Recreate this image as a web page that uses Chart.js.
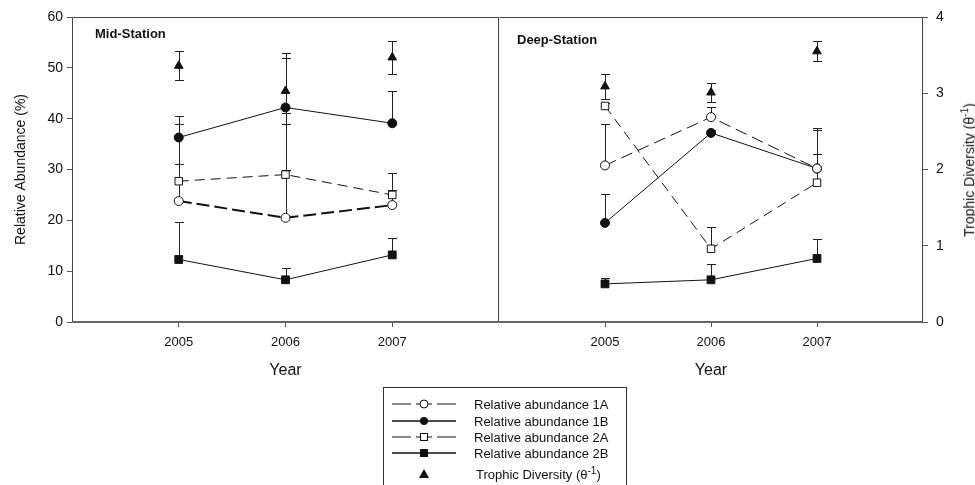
<!DOCTYPE html>
<html>
<head>
<meta charset="utf-8">
<script src="https://cdn.jsdelivr.net/npm/chart.js@4.4.0/dist/chart.umd.min.js"></script>
<style>
body{margin:0;background:#fff;width:975px;height:485px;position:relative;overflow:hidden;font-family:"Liberation Sans",Arial,sans-serif;color:#111}
#midWrap{position:absolute;left:0;top:0;width:499px;height:390px}
#deepWrap{position:absolute;left:480px;top:0;width:495px;height:390px}
.panel{position:absolute;font-weight:bold;font-size:13px}
#rightTitle{position:absolute;left:968px;top:170px;transform:translate(-50%,-50%) rotate(-90deg);white-space:nowrap;font-size:14px}
#legend{position:absolute;left:383px;top:387px;width:244px;height:110px;border:1px solid #333;box-sizing:border-box;font-size:13px}
.row{position:absolute;left:6px;height:14px;display:flex;align-items:center}
.row span{margin-left:16px;white-space:nowrap}
</style>
</head>
<body>
<div id="midWrap"><canvas id="mid"></canvas></div>
<div id="deepWrap"><canvas id="deep"></canvas></div>
<div class="panel" style="left:95px;top:26px">Mid-Station</div>
<div class="panel" style="left:517px;top:32px">Deep-Station</div>
<div id="rightTitle">Trophic Diversity (θ<sup style="font-size:10px">-1</sup>)</div>
<div id="legend"></div>
<script>
// years on the x axis
const years = [2005, 2006, 2007];
const yearTicks = [2005, 2006, 2007];
const leftTicks = [0, 10, 20, 30, 40, 50, 60];
const rightTicks = [0, 1, 2, 3, 4];

// Mid-Station, relative abundance (%) and upper error
const mid1A = [23.8, 20.5, 23.0];
const mid1AErr = [15.1, 20.7, 2.9];
const mid1B = [36.3, 42.2, 39.1];
const mid1BErr = [4.3, 10.8, 6.3];
const mid2A = [27.7, 29.0, 25.0];
const mid2AErr = [3.3, 0.9, 4.4];
const mid2B = [12.3, 8.3, 13.2];
const mid2BErr = [7.4, 2.3, 3.4];
// Mid-Station trophic diversity (theta^-1), +/- error
const midTroph = [3.36, 3.03, 3.47];
const midTrophErr = [0.19, 0.43, 0.22];

// Deep-Station
const deep1A = [30.8, 40.3, 30.2];
const deep1AErr = [8.2, 1.9, 8.0];
const deep1B = [19.5, 37.2, 30.2];
const deep1BErr = [5.7, 0.6, 7.6];
const deep2A = [42.5, 14.4, 27.4];
const deep2AErr = [0.6, 4.2, 5.7];
const deep2B = [7.5, 8.3, 12.5];
const deep2BErr = [1.1, 3.2, 3.8];
const deepTroph = [3.09, 3.01, 3.55];
const deepTrophErr = [0.16, 0.12, 0.13];

const legendLabels = ['Relative abundance 1A', 'Relative abundance 1B', 'Relative abundance 2A', 'Relative abundance 2B'];

const FONT = '"Liberation Sans", Arial, sans-serif';
const INK = '#111';

function pts(vals) {
    return vals.map((v, i) => ({x: years[i], y: v}));
}

function makeSets(a1, e1, b1, eb1, a2, e2, b2, eb2, tr, etr, thick1A) {
    return [
        {label: 'T', data: pts(tr), err: etr, both: true, yAxisID: 'y2', showLine: false,
         pointStyle: 'triangle', pointRadius: 5, backgroundColor: INK, borderColor: INK, borderWidth: 1},
        {label: '1A', data: pts(a1), err: e1, yAxisID: 'y', borderColor: INK, borderWidth: thick1A ? 2 : 1,
         borderDash: thick1A ? [13, 5] : [12, 6], pointStyle: 'circle', pointRadius: 4.5,
         pointBackgroundColor: '#fff', pointBorderColor: INK, pointBorderWidth: 1},
        {label: '1B', data: pts(b1), err: eb1, yAxisID: 'y', borderColor: INK, borderWidth: 1,
         pointStyle: 'circle', pointRadius: 4.5, pointBackgroundColor: INK, pointBorderColor: INK},
        {label: '2A', data: pts(a2), err: e2, yAxisID: 'y', borderColor: INK, borderWidth: 1,
         borderDash: [10, 6], pointStyle: 'rect', pointRadius: 5.3,
         pointBackgroundColor: '#fff', pointBorderColor: INK, pointBorderWidth: 1},
        {label: '2B', data: pts(b2), err: eb2, yAxisID: 'y', borderColor: INK, borderWidth: 1,
         pointStyle: 'rect', pointRadius: 5.5, pointBackgroundColor: INK, pointBorderColor: INK}
    ];
}

// error bars drawn through the scales, before the markers
const errorBars = {
    id: 'errorBars',
    beforeDatasetsDraw(chart) {
        const ctx = chart.ctx;
        const xs = chart.scales.x;
        ctx.save();
        ctx.strokeStyle = '#222';
        ctx.lineWidth = 1;
        chart.data.datasets.forEach(ds => {
            if (!ds.err) return;
            const ys = chart.scales[ds.yAxisID];
            ds.data.forEach((p, j) => {
                const e = ds.err[j];
                const x = Math.round(xs.getPixelForValue(p.x)) + 0.5;
                const top = Math.round(ys.getPixelForValue(p.y + e)) + 0.5;
                const bot = ds.both ? Math.round(ys.getPixelForValue(p.y - e)) + 0.5 : ys.getPixelForValue(p.y);
                ctx.beginPath();
                ctx.moveTo(x, bot); ctx.lineTo(x, top);
                ctx.moveTo(x - 4.5, top); ctx.lineTo(x + 4.5, top);
                if (ds.both) { ctx.moveTo(x - 4.5, bot); ctx.lineTo(x + 4.5, bot); }
                ctx.stroke();
            });
        });
        ctx.restore();
    }
};

// box round the plot area; the deep panel shares its left edge with the mid panel
const frame = {
    id: 'frame',
    afterDraw(chart, args, opts) {
        const a = chart.chartArea, ctx = chart.ctx;
        const l = Math.round(a.left) + 0.5, r = Math.round(a.right) - 0.5;
        const t = Math.round(a.top) + 0.5, b = Math.round(a.bottom);
        ctx.save();
        ctx.strokeStyle = '#444';
        ctx.lineWidth = 1;
        ctx.beginPath();
        ctx.moveTo(l, t); ctx.lineTo(r, t); ctx.lineTo(r, b);
        if (!opts.noLeft) { ctx.moveTo(l, t); ctx.lineTo(l, b); }
        ctx.stroke();
        ctx.strokeStyle = '#666';
        ctx.lineWidth = 2;
        ctx.beginPath();
        ctx.moveTo(a.left, a.bottom); ctx.lineTo(a.right, a.bottom);
        ctx.stroke();
        ctx.restore();
    }
};

function xScale() {
    return {
        type: 'linear', min: 2004, max: 2008,
        afterBuildTicks: s => { s.ticks = yearTicks.map(v => ({value: v})); },
        afterFit: s => { s.height = 68; s.paddingLeft = 0; s.paddingRight = 0; },
        grid: {display: true, drawOnChartArea: false, tickLength: 5, color: '#555'},
        border: {display: false},
        ticks: {color: INK, font: {family: FONT, size: 13}, padding: 8, callback: v => String(v)},
        title: {display: true, text: 'Year', color: INK, font: {family: FONT, size: 16}, padding: {top: 0, bottom: 10}}
    };
}

new Chart(document.getElementById('mid'), {
    type: 'line',
    data: {datasets: makeSets(mid1A, mid1AErr, mid1B, mid1BErr, mid2A, mid2AErr, mid2B, mid2BErr, midTroph, midTrophErr, true)},
    options: {
        responsive: true, maintainAspectRatio: false, animation: false,
        layout: {autoPadding: false, padding: {top: 17, right: 0, left: 0, bottom: 0}},
        plugins: {legend: {display: false}, tooltip: {enabled: false}, frame: {noLeft: false}},
        scales: {
            x: xScale(),
            y: {
                position: 'left', min: 0, max: 60,
                afterBuildTicks: s => { s.ticks = leftTicks.map(v => ({value: v})); },
                afterFit: s => { s.width = 72; },
                grid: {display: true, drawOnChartArea: false, tickLength: 5, color: '#555'},
                border: {display: false},
                ticks: {color: INK, font: {family: FONT, size: 14}, padding: 4},
                title: {display: true, text: 'Relative Abundance (%)', color: INK, font: {family: FONT, size: 14}, padding: {top: 13, bottom: 0}}
            },
            y2: {display: false, min: 0, max: 4}
        }
    },
    plugins: [errorBars, frame]
});

new Chart(document.getElementById('deep'), {
    type: 'line',
    data: {datasets: makeSets(deep1A, deep1AErr, deep1B, deep1BErr, deep2A, deep2AErr, deep2B, deep2BErr, deepTroph, deepTrophErr, false)},
    options: {
        responsive: true, maintainAspectRatio: false, animation: false,
        layout: {autoPadding: false, padding: {top: 17, right: 0, left: 19, bottom: 0}},
        plugins: {legend: {display: false}, tooltip: {enabled: false}, frame: {noLeft: true}},
        scales: {
            x: xScale(),
            y: {display: false, min: 0, max: 60},
            y2: {
                position: 'right', min: 0, max: 4,
                afterBuildTicks: s => { s.ticks = rightTicks.map(v => ({value: v})); },
                afterFit: s => { s.width = 52; },
                grid: {display: true, drawOnChartArea: false, tickLength: 5, color: '#555'},
                border: {display: false},
                ticks: {color: INK, font: {family: FONT, size: 14}, padding: 8}
            }
        }
    },
    plugins: [errorBars, frame]
});

// legend box with symbols
const dashedLine = '<line x1="2" y1="7" x2="21" y2="7" stroke="#111"/><line x1="26" y1="7" x2="30" y2="7" stroke="#111"/>' +
    '<line x1="38" y1="7" x2="42" y2="7" stroke="#111"/><line x1="47" y1="7" x2="66" y2="7" stroke="#111"/>';
const solidLine = '<line x1="2" y1="7" x2="66" y2="7" stroke="#111" stroke-width="1.3"/>';
const legendRows = [
    {text: legendLabels[0], line: dashedLine, marker: '<circle cx="34" cy="7" r="4" fill="#fff" stroke="#111"/>', y: 16},
    {text: legendLabels[1], line: solidLine, marker: '<circle cx="34" cy="7" r="4" fill="#111"/>', y: 33},
    {text: legendLabels[2], line: dashedLine, marker: '<rect x="30.5" y="3.5" width="7" height="7" fill="#fff" stroke="#111"/>', y: 49},
    {text: legendLabels[3], line: solidLine, marker: '<rect x="30" y="3" width="8" height="8" fill="#111"/>', y: 65},
    {text: 'Trophic Diversity (θ<sup style="font-size:10px">-1</sup>)', line: '', marker: '<polygon points="34,2 39,11 29,11" fill="#111"/>', y: 86, pad: 18}
];
const lg = document.getElementById('legend');
legendRows.forEach(r => {
    const d = document.createElement('div');
    d.className = 'row';
    d.style.top = (r.y - 7) + 'px';
    d.innerHTML = '<svg width="68" height="14">' + r.line + r.marker + '</svg><span' + (r.pad ? ' style="margin-left:' + r.pad + 'px"' : '') + '>' + r.text + '</span>';
    lg.appendChild(d);
});
</script>
</body>
</html>
